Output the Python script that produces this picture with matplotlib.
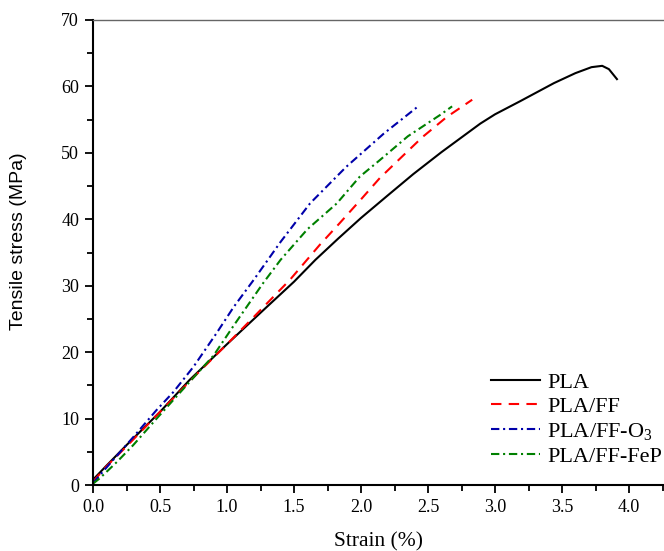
import matplotlib
matplotlib.use("Agg")
import matplotlib.pyplot as plt
from matplotlib.ticker import MultipleLocator

pla_strain = [0, 0.1, 0.25, 0.5, 0.72, 1.0, 1.27, 1.5, 1.66, 1.83, 2.0, 2.2, 2.39, 2.6, 2.89, 3.0, 3.19, 3.44, 3.6, 3.72, 3.8, 3.85, 3.91]
pla_stress = [0.8, 2.9, 6.0, 11.0, 15.8, 21.2, 26.3, 30.6, 33.9, 37.1, 40.2, 43.6, 46.8, 50.1, 54.4, 55.8, 57.8, 60.5, 62.0, 62.9, 63.1, 62.6, 61.1]

ff_strain = [0, 0.1, 0.25, 0.5, 0.75, 1.0, 1.2, 1.47, 1.69, 1.84, 2.0, 2.14, 2.32, 2.46, 2.64, 2.83]
ff_stress = [0.5, 2.8, 5.8, 11.0, 16.2, 21.2, 25.3, 30.9, 36.1, 39.4, 43.0, 46.2, 49.7, 52.4, 55.4, 58.0]

o3_strain = [0, 0.13, 0.3, 0.475, 0.6, 0.75, 0.92, 1.05, 1.2, 1.4, 1.62, 1.89, 2.17, 2.42]
o3_stress = [0.3, 3.3, 7.2, 11.3, 14.0, 17.8, 22.8, 26.8, 30.9, 36.6, 42.4, 47.9, 52.9, 56.9]

fep_strain = [0, 0.05, 0.18, 0.3, 0.475, 0.72, 0.9, 1.05, 1.27, 1.4, 1.6, 1.82, 1.99, 2.14, 2.35, 2.59, 2.68]
fep_stress = [0.2, 1.0, 3.5, 6.0, 10.0, 15.5, 19.5, 24.0, 30.4, 33.9, 38.5, 42.4, 46.4, 48.9, 52.5, 55.7, 57.0]

labels = ["PLA", "PLA/FF", "PLA/FF-O$_3$", "PLA/FF-FeP"]
xticks = [0.0, 0.5, 1.0, 1.5, 2.0, 2.5, 3.0, 3.5, 4.0]
yticks = [0, 10, 20, 30, 40, 50, 60, 70]

serif = "Liberation Serif"
plt.rcParams["mathtext.fontset"] = "custom"
plt.rcParams["mathtext.rm"] = serif
plt.rcParams["mathtext.it"] = serif + ":italic"
plt.rcParams["mathtext.bf"] = serif + ":bold"

fig = plt.figure(figsize=(6.64, 5.51), dpi=100)
ax = fig.add_axes([93/664, 66/551, 571/664, 465/551])

lw = 1.5
ax.plot(pla_strain, pla_stress, color="black", lw=lw, ls="-", label=labels[0])
ax.plot(ff_strain, ff_stress, color="#ff0000", lw=lw, ls=(0, (5, 3.5)), label=labels[1])
ax.plot(o3_strain, o3_stress, color="#0000aa", lw=lw, ls=(0, (4, 1.8, 1, 1.8)), label=labels[2])
ax.plot(fep_strain, fep_stress, color="#008000", lw=lw, ls=(0, (4, 1.8, 1, 1.8)), label=labels[3])

ax.set_xlim(0, 571/134)
ax.set_ylim(0, 70)
ax.set_xticks(xticks)
ax.set_yticks(yticks)
ax.set_xticklabels([f"{v:.1f}" for v in xticks], fontfamily=serif, fontsize=13)
ax.set_yticklabels([str(v) for v in yticks], fontfamily=serif, fontsize=13)
ax.xaxis.set_minor_locator(MultipleLocator(0.25))
ax.yaxis.set_minor_locator(MultipleLocator(5))
ax.tick_params(which="major", direction="out", length=6, width=1.3, pad=4)
ax.tick_params(which="minor", direction="out", length=4, width=1.3)

ax.spines["right"].set_visible(False)
ax.spines["top"].set_color("#666666")
ax.spines["top"].set_linewidth(1.0)
ax.spines["left"].set_linewidth(1.5)
ax.spines["bottom"].set_linewidth(1.5)

ax.set_xlabel("Strain (%)", fontfamily=serif, fontsize=15.5, labelpad=12)
ax.set_ylabel("Tensile stress (MPa)", fontfamily="Liberation Sans", fontsize=14)
ax.yaxis.set_label_coords(-0.115, 0.525)

leg = ax.legend(loc="lower right", bbox_to_anchor=(1.0117, 0.020), frameon=False,
                prop={"family": serif, "size": 16}, handlelength=2.2,
                handletextpad=0.3, labelspacing=0.18, borderaxespad=0.0)

fig.savefig("out.png", dpi=100)
